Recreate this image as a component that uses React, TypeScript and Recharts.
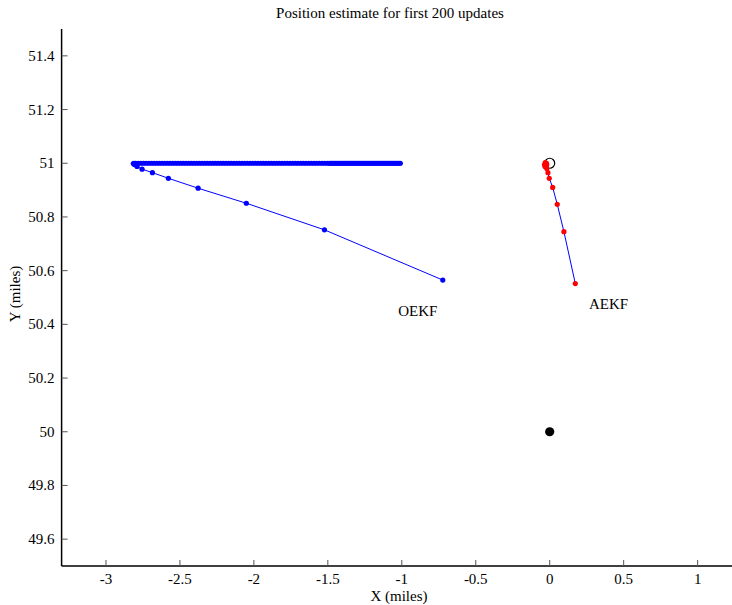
import React from 'react';
import { ScatterChart, Scatter, XAxis, YAxis, ReferenceDot } from 'recharts';

// axis ticks
const xTicks = [-3, -2.5, -2, -1.5, -1, -0.5, 0, 0.5, 1];
const yTicks = [49.6, 49.8, 50, 50.2, 50.4, 50.6, 50.8, 51, 51.2, 51.4];

// OEKF: initial descent toward the start of the plateau
const oekfDescentX = [-0.723, -1.523, -2.051, -2.377, -2.578, -2.686, -2.756, -2.79, -2.808, -2.815, -2.81];
const oekfDescentY = [50.565, 50.752, 50.851, 50.907, 50.944, 50.965, 50.978, 50.988, 50.995, 50.999, 51.0];

// OEKF: dense run along y = 51
const oekfPlateauY = 51.0;
const oekfPlateauX = [
  -2.8, -2.782, -2.764, -2.746, -2.728, -2.71, -2.692, -2.674, -2.656, -2.638,
  -2.62, -2.602, -2.584, -2.566, -2.548, -2.53, -2.512, -2.494, -2.476, -2.458,
  -2.44, -2.422, -2.404, -2.386, -2.368, -2.35, -2.332, -2.314, -2.296, -2.278,
  -2.26, -2.242, -2.224, -2.206, -2.188, -2.17, -2.152, -2.134, -2.116, -2.098,
  -2.08, -2.062, -2.044, -2.026, -2.008, -1.99, -1.972, -1.954, -1.936, -1.918,
  -1.9, -1.882, -1.864, -1.846, -1.828, -1.81, -1.792, -1.774, -1.756, -1.738,
  -1.72, -1.702, -1.684, -1.666, -1.648, -1.63, -1.612, -1.594, -1.576, -1.558,
  -1.54, -1.522, -1.504, -1.49, -1.48, -1.47, -1.46, -1.45, -1.44, -1.43,
  -1.42, -1.41, -1.4, -1.39, -1.38, -1.37, -1.36, -1.35, -1.34, -1.33,
  -1.32, -1.31, -1.3, -1.29, -1.28, -1.27, -1.26, -1.25, -1.24, -1.23,
  -1.22, -1.21, -1.2, -1.19, -1.18, -1.17, -1.16, -1.15, -1.14, -1.13,
  -1.12, -1.11, -1.1, -1.09, -1.08, -1.07, -1.06, -1.05, -1.04, -1.03,
  -1.02, -1.01,
];

// AEKF track
const aekfX = [0.173, 0.096, 0.051, 0.02, -0.003, -0.012, -0.02, -0.026, -0.03, -0.035, -0.03, -0.022, -0.025, -0.032, -0.02];
const aekfY = [50.552, 50.745, 50.847, 50.91, 50.944, 50.965, 50.98, 50.99, 50.996, 50.995, 51.002, 51.0, 50.99, 50.988, 50.994];

// true positions
const truthStart = [{ x: 0, y: 51 }];
const truthEnd = [{ x: 0, y: 50 }];

const oekfData = [
  ...oekfDescentX.map((x, i) => ({ x, y: oekfDescentY[i] })),
  ...oekfPlateauX.map((x) => ({ x, y: oekfPlateauY })),
];
const aekfData = aekfX.map((x, i) => ({ x, y: aekfY[i] }));

const FONT = '"Liberation Serif", "Times New Roman", serif';
const TICK = '#555';

const BottomTick = (p: any) => (
  <g>
    <line x1={p.x} y1={p.y} x2={p.x} y2={p.y - 6} stroke={TICK} />
    <text x={p.x} y={p.y + 18} textAnchor="middle" fontSize={15} fontFamily={FONT} fill="#000">
      {p.payload.value}
    </text>
  </g>
);

const LeftTick = (p: any) => (
  <g>
    <line x1={p.x} y1={p.y} x2={p.x + 6} y2={p.y} stroke={TICK} />
    <text x={p.x - 7} y={p.y + 5} textAnchor="end" fontSize={15} fontFamily={FONT} fill="#000">
      {p.payload.value}
    </text>
  </g>
);

const TopTick = (p: any) => <line x1={p.x} y1={p.y} x2={p.x} y2={p.y + 6} stroke={TICK} />;
const RightTick = (p: any) => <line x1={p.x} y1={p.y} x2={p.x - 6} y2={p.y} stroke={TICK} />;

const blueDot = (p: any) => <circle cx={p.cx} cy={p.cy} r={2.6} fill="#0000ff" />;
const redDot = (p: any) => <circle cx={p.cx} cy={p.cy} r={2.6} fill="#ff0000" />;
const openCircle = (p: any) => <circle cx={p.cx} cy={p.cy} r={5} fill="none" stroke="#000" strokeWidth={1.2} />;
const blackDot = (p: any) => <circle cx={p.cx} cy={p.cy} r={4.6} fill="#000" />;

const axisLine = { stroke: '#000', strokeWidth: 1.5 };

export default function App() {
  return (
    <div style={{ position: 'absolute', left: 0, top: 0, width: 732, height: 605, overflow: 'hidden', background: '#fff' }}>
      <ScatterChart width={760} height={605} margin={{ top: 29, right: 18, bottom: 0, left: 0 }}>
        <XAxis
          xAxisId="b"
          type="number"
          dataKey="x"
          domain={[-3.3, 1.3]}
          ticks={xTicks}
          interval={0}
          allowDataOverflow
          height={39}
          tickSize={0}
          tickMargin={0}
          tickLine={false}
          axisLine={axisLine}
          tick={BottomTick}
        />
        <XAxis
          xAxisId="t"
          orientation="top"
          type="number"
          domain={[-3.3, 1.3]}
          ticks={xTicks}
          interval={0}
          allowDataOverflow
          height={0}
          tickSize={0}
          tickMargin={0}
          tickLine={false}
          axisLine={axisLine}
          tick={TopTick}
        />
        <YAxis
          yAxisId="l"
          type="number"
          dataKey="y"
          domain={[49.5, 51.5]}
          ticks={yTicks}
          interval={0}
          allowDataOverflow
          width={61.6}
          tickSize={0}
          tickMargin={0}
          tickLine={false}
          axisLine={axisLine}
          tick={LeftTick}
        />
        <YAxis
          yAxisId="r"
          orientation="right"
          type="number"
          domain={[49.5, 51.5]}
          ticks={yTicks}
          interval={0}
          allowDataOverflow
          width={0}
          tickSize={0}
          tickMargin={0}
          tickLine={false}
          axisLine={axisLine}
          tick={RightTick}
        />
        <Scatter
          xAxisId="b"
          yAxisId="l"
          data={oekfData}
          line={{ stroke: '#0000ff', strokeWidth: 1 }}
          lineType="joint"
          shape={blueDot}
          isAnimationActive={false}
        />
        <Scatter xAxisId="b" yAxisId="l" data={truthStart} shape={openCircle} isAnimationActive={false} />
        <Scatter
          xAxisId="b"
          yAxisId="l"
          data={aekfData}
          line={{ stroke: '#0000ff', strokeWidth: 1 }}
          lineType="joint"
          shape={redDot}
          isAnimationActive={false}
        />
        <Scatter xAxisId="b" yAxisId="l" data={truthEnd} shape={blackDot} isAnimationActive={false} />
        <ReferenceDot
          xAxisId="b"
          yAxisId="l"
          x={-1.024}
          y={50.448}
          r={0}
          shape={(p: any) => (
            <text x={p.cx} y={p.cy + 5} fontSize={15} fontFamily={FONT} fill="#000">OEKF</text>
          )}
        />
        <ReferenceDot
          xAxisId="b"
          yAxisId="l"
          x={0.265}
          y={50.476}
          r={0}
          shape={(p: any) => (
            <text x={p.cx} y={p.cy + 5} fontSize={15} fontFamily={FONT} fill="#000">AEKF</text>
          )}
        />
      </ScatterChart>
      <svg width={732} height={605} style={{ position: 'absolute', left: 0, top: 0, pointerEvents: 'none' }}>
        <text x={390} y={18} textAnchor="middle" fontSize={15} fontFamily={FONT} fill="#000">
          Position estimate for first 200 updates
        </text>
        <text x={399} y={601} textAnchor="middle" fontSize={15} fontFamily={FONT} fill="#000">
          X (miles)
        </text>
        <text x={20} y={294} textAnchor="middle" fontSize={15} fontFamily={FONT} fill="#000" transform="rotate(-90 20 294)">
          Y (miles)
        </text>
      </svg>
    </div>
  );
}
